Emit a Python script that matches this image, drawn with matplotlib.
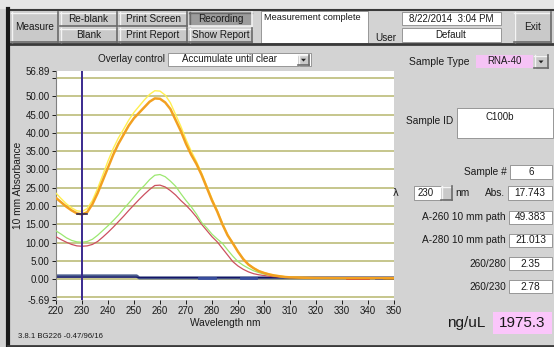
import matplotlib
matplotlib.use("Agg")
import matplotlib.pyplot as plt
from matplotlib.patches import Rectangle, Polygon
from matplotlib.lines import Line2D

plt.rcParams['font.family'] = ['Liberation Sans', 'DejaVu Sans']

# ---------------- data ----------------
wl = [220, 222, 224, 226, 228, 230, 232, 234, 236, 238, 240, 242, 244, 246, 248, 250,
      252, 254, 256, 258, 260, 262, 264, 266, 268, 270, 272, 274, 276, 278, 280, 282,
      284, 286, 288, 290, 292, 294, 296, 298, 300, 302, 304, 306, 308, 310, 315, 320,
      330, 340, 350]
orange = [22.2, 21.0, 19.8, 18.8, 18.0, 17.7, 18.3, 20.5, 23.5, 27.0, 30.5, 34.0, 37.0,
          39.5, 42.0, 44.0, 45.5, 47.0, 48.5, 49.4, 49.3, 48.3, 46.5, 43.5, 40.5, 37.0,
          34.0, 31.5, 28.5, 25.0, 21.5, 18.5, 15.0, 12.0, 9.8, 7.5, 5.5, 4.0, 3.0, 2.2,
          1.7, 1.3, 1.0, 0.8, 0.6, 0.5, 0.4, 0.35, 0.3, 0.3, 0.3]
yellow = [23.5, 22.0, 20.6, 19.5, 18.7, 18.5, 19.3, 21.5, 24.8, 28.5, 32.3, 35.7, 38.6,
          41.0, 43.5, 45.6, 47.3, 49.0, 50.5, 51.5, 51.4, 50.3, 48.2, 45.0, 41.8, 38.2,
          35.0, 32.2, 29.0, 25.5, 22.0, 18.8, 15.3, 12.2, 9.9, 7.6, 5.6, 4.1, 3.1, 2.3,
          1.8, 1.4, 1.1, 0.9, 0.7, 0.55, 0.45, 0.4, 0.35, 0.3, 0.3]
green = [13.2, 12.3, 11.3, 10.6, 10.2, 10.1, 10.3, 10.9, 12.0, 13.3, 14.6, 16.0, 17.5,
         19.2, 20.8, 22.5, 24.2, 25.6, 27.2, 28.4, 28.6, 28.0, 26.8, 25.4, 23.4, 21.5,
         19.8, 17.8, 15.5, 14.0, 12.3, 11.0, 9.8, 8.0, 6.3, 4.8, 3.8, 3.0, 2.3, 1.8,
         1.4, 1.1, 0.9, 0.7, 0.6, 0.5, 0.45, 0.4, 0.35, 0.3, 0.3]
red = [11.6, 10.8, 10.1, 9.5, 9.1, 9.0, 9.1, 9.5, 10.3, 11.5, 12.8, 14.2, 15.7, 17.2,
       18.8, 20.3, 21.8, 23.2, 24.5, 25.6, 25.7, 25.2, 24.2, 23.0, 21.5, 20.2, 18.7,
       17.0, 15.0, 13.3, 11.6, 10.2, 8.4, 6.6, 4.8, 3.6, 2.7, 2.0, 1.5, 1.2, 1.0, 0.8,
       0.7, 0.6, 0.55, 0.5, 0.45, 0.4, 0.35, 0.3, 0.3]
base_wl = [220, 251, 252, 350]
base_slate = [0.9, 0.9, 0.35, 0.35]
base_navy = [0.55, 0.55, 0.45, 0.45]
seg_blue_wl = [[275, 281], [291, 297], [343, 346]]
seg_red_wl = [332, 340]
seg_brown_wl = [346, 350]
seg_level = 0.3

cursor_wl = 230
cursor_abs = 17.743
x_ticks = [220, 230, 240, 250, 260, 270, 280, 290, 300, 310, 320, 330, 340, 350]
y_ticks = [-5.69, -5, 0, 5, 10, 15, 20, 25, 30, 35, 40, 45, 50, 55, 56.89]
y_labels = ['-5.69', '', '0.00', '5.00', '10.00', '15.00', '20.00', '25.00', '30.00',
            '35.00', '40.00', '45.00', '50.00', '', '56.89']
grid_levels = [-5, 0, 5, 10, 15, 20, 25, 30, 35, 40, 45, 50, 55]

result_labels = ['A-260 10 mm path', 'A-280 10 mm path', '260/280', '260/230']
result_values = ['49.383', '21.013', '2.35', '2.78']

# ---------------- layout helpers ----------------
W, H = 554, 347
fig = plt.figure(figsize=(W / 100, H / 100), dpi=100)
GRAY = '#d3d3d3'
fig.patch.set_facecolor(GRAY)


def rect(x0, y0, x1, y1, fc, ec='none', lw=0, z=1):
    fig.patches.append(Rectangle((x0 / W, 1 - y1 / H), (x1 - x0) / W, (y1 - y0) / H,
                                 transform=fig.transFigure, fc=fc, ec=ec, lw=lw,
                                 zorder=z))


def line(xs, ys, color, lw=1, z=2):
    fig.lines.append(Line2D([x / W for x in xs], [1 - y / H for y in ys],
                            transform=fig.transFigure, color=color, lw=lw, zorder=z))


def txt(x, y, s, size=7, ha='center', va='center', color='#1a1a1a', **kw):
    fig.text(x / W, 1 - y / H, s, size=size, ha=ha, va=va, color=color, **kw)


def button(x0, y0, x1, y1, label, fc='#c9c9c9', pressed=False):
    rect(x0, y0, x1, y1, fc)
    hi, lo = ('#6a6a6a', '#f2f2f2') if pressed else ('#f4f4f4', '#6a6a6a')
    line([x0, x1], [y0 + 0.5, y0 + 0.5], hi, 1)
    line([x0 + 0.5, x0 + 0.5], [y0, y1], hi, 1)
    line([x0, x1], [y1 - 0.5, y1 - 0.5], lo, 1.2)
    line([x1 - 0.5, x1 - 0.5], [y0, y1], lo, 1.2)
    txt((x0 + x1) / 2, (y0 + y1) / 2 + 0.5, label, size=7.2)


def box(x0, y0, x1, y1, fc='white'):
    rect(x0, y0, x1, y1, fc, ec='#8a8a8a', lw=0.6)


def arrow_btn(x0, y0, x1, y1):
    button(x0, y0, x1, y1, '')
    cx, cy = (x0 + x1) / 2, (y0 + y1) / 2
    fig.patches.append(Polygon([((cx - 2.5) / W, 1 - (cy - 1) / H),
                                ((cx + 2.5) / W, 1 - (cy - 1) / H),
                                (cx / W, 1 - (cy + 1.8) / H)], closed=True,
                               transform=fig.transFigure, fc='#202020', ec='none',
                               zorder=3))


# window chrome
rect(0, 0, W, 9, '#e6e6e6')
line([8, W], [9.5, 9.5], '#3a3a3a', 1.5)
line([8, W], [43.5, 43.5], '#3a3a3a', 2)
line([8, 8], [9, 347], '#1a1a1a', 3)
line([8, W], [345.5, 345.5], '#3a3a3a', 2)

# toolbar
button(11, 12, 58, 42, 'Measure')
button(60, 12, 117, 26, 'Re-blank')
button(60, 28, 117, 42, 'Blank')
button(119, 12, 187, 26, 'Print Screen')
button(119, 28, 187, 42, 'Print Report')
button(189, 12, 252, 26, 'Recording', fc='#9c9c9c', pressed=True)
button(189, 28, 252, 42, 'Show Report')
box(261, 11, 368, 43)
txt(264, 17.5, 'Measurement complete', ha='left', size=6.7)
txt(386, 38, 'User', size=7.2)
box(402, 12, 501, 25)
txt(451, 18.5, '8/22/2014  3:04 PM', size=7)
box(402, 28, 501, 42)
txt(451, 35, 'Default', size=7)
button(514, 12, 551, 42, 'Exit')

# overlay control
txt(165, 59.5, 'Overlay control', ha='right', size=7.2)
box(168, 53, 311, 66)
txt(230, 59.5, 'Accumulate until clear', size=7)
arrow_btn(298, 54.5, 309, 65)

# right-hand panel
txt(409, 62, 'Sample Type', ha='left', size=7.5)
rect(476, 55, 533, 68, '#f5c3f5')
txt(504, 61, 'RNA-40', size=7)
arrow_btn(534, 55, 548, 68)

txt(406, 121, 'Sample ID', ha='left', size=7.3)
box(457, 108, 553, 138)
txt(500, 117, 'C100b', size=7)

txt(507, 172, 'Sample #', ha='right', size=7.3)
box(510, 165, 552, 179)
txt(531, 172, '6', size=7)

txt(396, 193, 'λ', size=7, family=['DejaVu Sans'])
box(414, 186, 441, 200)
txt(426, 193, str(cursor_wl), size=7)
button(441, 186, 452, 200, '')
txt(462, 193, 'nm', size=7.3)
txt(505, 193, 'Abs.', ha='right', size=7.3)
box(508, 186, 552, 200)
txt(530, 193, f'{cursor_abs:.3f}', size=7.3)

for i, (lab, val) in enumerate(zip(result_labels, result_values)):
    yc = 217 + i * 23.3
    txt(506, yc, lab, ha='right', size=7.3)
    box(509, yc - 6.5, 552, yc + 6.5)
    txt(530.5, yc, val, size=7.3)

txt(466, 323, 'ng/uL', size=11)
rect(493, 312, 552, 334, '#fbc6fb')
txt(522.5, 323, '1975.3', size=11)

txt(18, 337, '3.8.1 BG226 -0.47/96/16', ha='left', size=5.6)

# ---------------- plot ----------------
ax = fig.add_axes([56 / W, 1 - 300 / H, (394 - 56) / W, (300 - 71) / H])
ax.set_facecolor('white')
ax.set_xlim(220, 350)
ax.set_ylim(-5.69, 56.89)
for g in grid_levels:
    ax.axhline(g, color='#b6b66e', lw=1.1, zorder=1)

ax.plot(base_wl, base_slate, color='#4b5d8e', lw=2.2, zorder=2)
ax.plot(base_wl, base_navy, color='#141466', lw=0.9, zorder=2)
for seg in seg_blue_wl:
    ax.plot(seg, [seg_level, seg_level], color='#3a50a0', lw=2, zorder=2)
ax.plot(seg_red_wl, [seg_level, seg_level], color='#c83c3c', lw=2, zorder=2)
ax.plot(seg_brown_wl, [seg_level, seg_level], color='#8a6a40', lw=2, zorder=2)

ax.plot(wl, red, color='#cc5060', lw=0.9, zorder=3)
ax.plot(wl, green, color='#9ce870', lw=0.9, zorder=3)
ax.plot(wl, yellow, color='#fff050', lw=1.0, zorder=4)
ax.plot(wl, orange, color='#f2a020', lw=1.8, zorder=5)

ax.axvline(cursor_wl, color='#3a2a8e', lw=1.4, zorder=6)
ax.plot([cursor_wl - 1.8, cursor_wl + 1.8], [cursor_abs, cursor_abs], color='#302850',
        lw=1.2, zorder=7)

ax.set_xticks(x_ticks)
ax.set_xticklabels([str(t) for t in x_ticks])
ax.set_yticks(y_ticks)
ax.set_yticklabels(y_labels)
ax.tick_params(axis='both', labelsize=7, colors='#1a1a1a', length=3, width=0.7, pad=1.5)
for s in ['top', 'right', 'bottom']:
    ax.spines[s].set_visible(False)
ax.spines['left'].set_color('#808080')
ax.spines['left'].set_linewidth(0.8)
ax.set_xlabel('Wavelength nm', fontsize=7.3, labelpad=1, color='#1a1a1a')
ax.set_ylabel('10 mm Absorbance', fontsize=7.3, labelpad=2, color='#1a1a1a')

fig.savefig('out.png', dpi=100, facecolor=fig.get_facecolor())
